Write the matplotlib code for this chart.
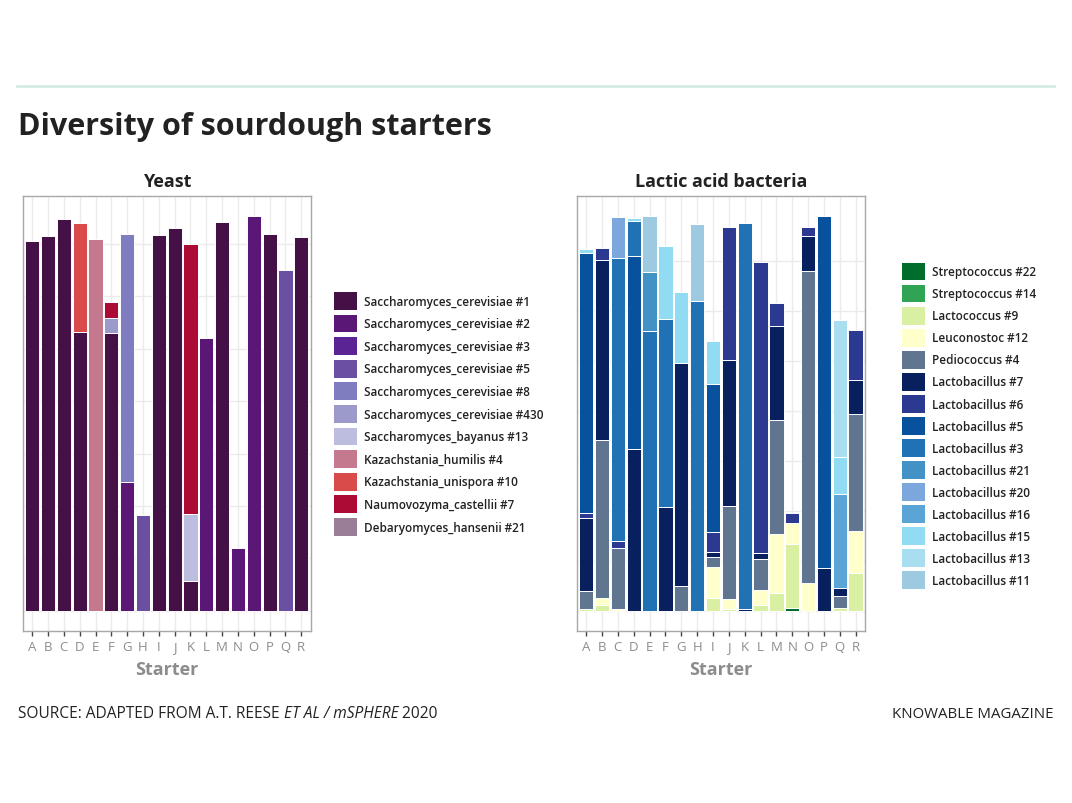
import numpy as np
import matplotlib.pyplot as plt
from matplotlib.patches import Patch
from matplotlib.lines import Line2D

plt.rcParams['font.family'] = ['Open Sans', 'DejaVu Sans']

starters = list("ABCDEFGHIJKLMNOPQR")

# yeast, stacked bottom -> top in legend order
yeast_species = [
    "Saccharomyces_cerevisiae #1", "Saccharomyces_cerevisiae #2",
    "Saccharomyces_cerevisiae #3", "Saccharomyces_cerevisiae #5",
    "Saccharomyces_cerevisiae #8", "Saccharomyces_cerevisiae #430",
    "Saccharomyces_bayanus #13", "Kazachstania_humilis #4",
    "Kazachstania_unispora #10", "Naumovozyma_castellii #7",
    "Debaryomyces_hansenii #21",
]
yeast_colors = ["#451046", "#5a1776", "#5a2494", "#6a4fa3", "#7f7dbf",
                "#9c9acb", "#bdbde0", "#c5798f", "#d94a4a", "#ab0b35", "#9a7e98"]
#              A     B     C     D     E     F     G     H     I     J     K     L     M     N     O     P     Q     R
sc1 =        [7.06, 7.14, 7.48, 5.32, 0,    5.30, 0,    0,    7.16, 7.30, 0.57, 0,    7.41, 0,    0,    7.19, 0,    7.13]
sc2 =        [0,    0,    0,    0,    0,    0,    2.46, 0,    0,    0,    0,    5.20, 0,    1.20, 7.54, 0,    0,    0]
sc3 =        [0] * 18
sc5 =        [0,    0,    0,    0,    0,    0,    0,    1.82, 0,    0,    0,    0,    0,    0,    0,    0,    6.51, 0]
sc8 =        [0,    0,    0,    0,    0,    0,    4.72, 0,    0,    0,    0,    0,    0,    0,    0,    0,    0,    0]
sc430 =      [0,    0,    0,    0,    0,    0.29, 0,    0,    0,    0,    0,    0,    0,    0,    0,    0,    0,    0]
sb13 =       [0,    0,    0,    0,    0,    0,    0,    0,    0,    0,    1.27, 0,    0,    0,    0,    0,    0,    0]
kh4 =        [0,    0,    0,    0,    7.09, 0,    0,    0,    0,    0,    0,    0,    0,    0,    0,    0,    0,    0]
ku10 =       [0,    0,    0,    2.08, 0,    0,    0,    0,    0,    0,    0,    0,    0,    0,    0,    0,    0,    0]
nc7 =        [0,    0,    0,    0,    0,    0.30, 0,    0,    0,    0,    5.15, 0,    0,    0,    0,    0,    0,    0]
dh21 =       [0] * 18
yeast_values = [sc1, sc2, sc3, sc5, sc8, sc430, sb13, kh4, ku10, nc7, dh21]

# lactic acid bacteria, stacked bottom -> top in legend order
lab_species = [
    "Streptococcus #22", "Streptococcus #14", "Lactococcus #9", "Leuconostoc #12",
    "Pediococcus #4", "Lactobacillus #7", "Lactobacillus #6", "Lactobacillus #5",
    "Lactobacillus #3", "Lactobacillus #21", "Lactobacillus #20", "Lactobacillus #16",
    "Lactobacillus #15", "Lactobacillus #13", "Lactobacillus #11",
]
lab_colors = ["#006d2c", "#31a354", "#d9f0a3", "#ffffcc", "#5f7590", "#08205e",
              "#2c3990", "#08519c", "#2171b5", "#4292c6", "#7ba7dc", "#5aa5d5",
              "#92dcf3", "#a8def0", "#9ecae1"]
#              A     B     C     D     E     F     G     H     I     J     K     L     M     N     O     P     Q     R
strep22 =    [0,    0,    0,    0,    0,    0,    0,    0,    0,    0,    0,    0,    0,    0.05, 0,    0,    0,    0]
strep14 =    [0] * 18
lactoc9 =    [0.03, 0.11, 0,    0,    0,    0,    0,    0,    0.25, 0.04, 0,    0.11, 0.36, 1.29, 0,    0,    0.05, 0.75]
leuco12 =    [0,    0.15, 0.03, 0,    0,    0,    0,    0,    0.63, 0.19, 0,    0.30, 1.18, 0.41, 0.56, 0,    0,    0.84]
pedio4 =     [0.37, 3.15, 1.22, 0,    0,    0,    0.49, 0,    0.20, 1.87, 0,    0.62, 2.27, 0,    6.23, 0,    0.25, 2.35]
lb7 =        [1.45, 3.61, 0,    3.24, 0,    2.07, 4.46, 0,    0.10, 2.91, 0.03, 0.13, 1.88, 0,    0.70, 0.85, 0.15, 0.67]
lb6 =        [0.10, 0.23, 0.15, 0,    0,    0,    0,    0,    0.40, 2.67, 0,    5.82, 0.47, 0.20, 0.19, 0,    0,    1.00]
lb5 =        [5.21, 0,    0,    3.85, 0,    0,    0,    0,    2.95, 0,    0,    0,    0,    0,    0,    7.05, 0,    0]
lb3 =        [0,    0,    5.66, 0.71, 5.59, 3.76, 0,    6.20, 0,    0,    7.73, 0,    0,    0,    0,    0,    0,    0]
lb21 =       [0,    0,    0,    0,    1.19, 0,    0,    0,    0,    0,    0,    0,    0,    0,    0,    0,    0,    0]
lb20 =       [0,    0,    0.82, 0,    0,    0,    0,    0,    0,    0,    0,    0,    0,    0,    0,    0,    0,    0]
lb16 =       [0,    0,    0,    0,    0,    0,    0,    0,    0,    0,    0,    0,    0,    0,    0,    0,    1.89, 0]
lb15 =       [0.07, 0,    0,    0.05, 0,    1.46, 1.42, 0,    0.87, 0,    0,    0,    0,    0,    0,    0,    0.73, 0]
lb13 =       [0,    0,    0,    0,    0,    0,    0,    0,    0,    0,    0,    0,    0,    0,    0,    0,    2.75, 0]
lb11 =       [0,    0,    0,    0,    1.11, 0,    0,    1.54, 0,    0,    0,    0,    0,    0,    0,    0,    0,    0]
lab_values = [strep22, strep14, lactoc9, leuco12, pedio4, lb7, lb6, lb5, lb3,
              lb21, lb20, lb16, lb15, lb13, lb11]

TXT = "#222222"
GRAY = "#8c8c8c"


def stacked(ax, values, colors, title):
    x = np.arange(len(starters))
    bottom = np.zeros(len(starters))
    for vals, col in zip(values, colors):
        vals = np.array(vals, dtype=float)
        m = vals > 0
        if m.any():
            ax.bar(x[m], vals[m], bottom=bottom[m], width=0.9, color=col,
                   edgecolor="white", linewidth=0.7, zorder=2)
        bottom += vals
    top = bottom.max()
    ax.set_xlim(-0.6, len(starters) - 0.4)
    ax.set_ylim(-0.05 * top, 1.05 * top)
    ax.set_xticks(x)
    ax.set_xticklabels(starters, color=GRAY, fontsize=9.5)
    ax.set_yticks(np.arange(0, int(top) + 1))
    ax.set_yticklabels([])
    ax.tick_params(axis="y", length=0)
    ax.tick_params(axis="x", length=3.5, width=1, color="#444444", pad=3)
    ax.grid(True, color="#ebebeb", linewidth=1, zorder=0)
    ax.set_axisbelow(True)
    for s in ax.spines.values():
        s.set_color("#a8a8a8")
        s.set_linewidth(1.0)
    ax.set_xlabel("Starter", color=GRAY, fontsize=13, fontweight="bold", labelpad=5)
    ax.set_title(title, color=TXT, fontsize=13, fontweight="bold", pad=7)


fig = plt.figure(figsize=(10.72, 8.04), dpi=100)

ax1 = fig.add_axes([0.0212, 0.2143, 0.2687, 0.541])
stacked(ax1, yeast_values, yeast_colors, "Yeast")
ax2 = fig.add_axes([0.538, 0.2143, 0.269, 0.541])
stacked(ax2, lab_values, lab_colors, "Lactic acid bacteria")

leg_kw = dict(loc="upper left", frameon=False, fontsize=8.5, handlelength=1.95,
              handleheight=1.95, handletextpad=0.6,
              borderpad=0, borderaxespad=0, bbox_transform=fig.transFigure)
h1 = [Patch(facecolor=c, edgecolor="none") for c in yeast_colors]
l1 = fig.legend(h1, yeast_species, bbox_to_anchor=(0.3116, 0.6355),
                labelspacing=0.40, **leg_kw)
h2 = [Patch(facecolor=c, edgecolor="none") for c in lab_colors]
l2 = fig.legend(h2, lab_species, bbox_to_anchor=(0.8417, 0.6722),
                labelspacing=0.355, **leg_kw)
for lg in (l1, l2):
    for t in lg.get_texts():
        t.set_color(TXT)
        t.set_fontweight("semibold")

# header
fig.add_artist(Line2D([0.0156, 0.9832], [0.892, 0.892], color="#d5ebe5",
                      linewidth=2, transform=fig.transFigure))
fig.text(0.0165, 0.832, "Diversity of sourdough starters", fontsize=22,
         fontweight="bold", color=TXT, va="baseline", ha="left")

# footer with italic pieces
fig.canvas.draw()
r = fig.canvas.get_renderer()
parts = [("SOURCE: ADAPTED FROM A.T. REESE ", "normal"), ("ET AL / mSPHERE", "italic"),
         (" 2020", "normal")]
xpos = 0.0168
for txt, style in parts:
    t = fig.text(xpos, 0.107, txt, fontsize=11.2, style=style, color=TXT,
                 va="baseline", ha="left")
    bb = t.get_window_extent(renderer=r)
    xpos += bb.width / fig.bbox.width
fig.text(0.9832, 0.107, "KNOWABLE MAGAZINE", fontsize=10.8, color=TXT,
         va="baseline", ha="right")

fig.savefig("out.png", dpi=100)
